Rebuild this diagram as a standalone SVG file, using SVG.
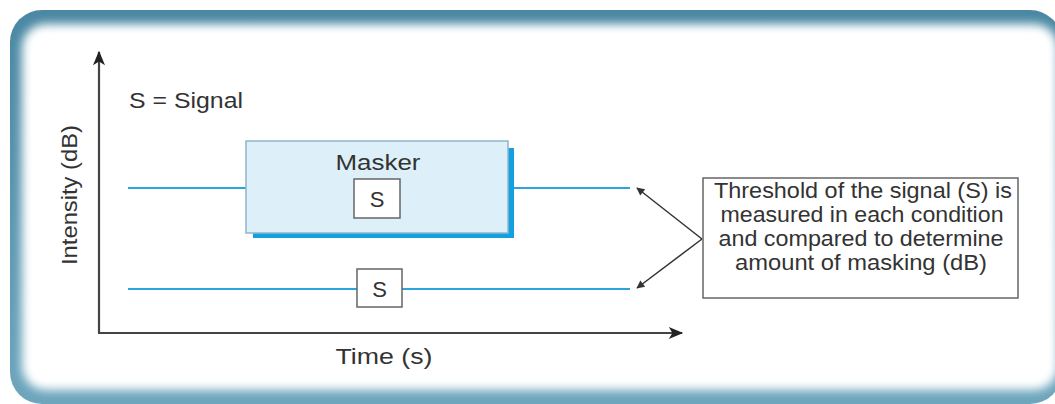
<svg xmlns="http://www.w3.org/2000/svg" width="1055" height="404" viewBox="0 0 1055 404">
<defs>
<filter id="blur" x="-5%" y="-10%" width="110%" height="120%"><feGaussianBlur stdDeviation="5"/></filter>
<linearGradient id="frameGrad" x1="0" y1="0" x2="0" y2="1"><stop offset="0" stop-color="#4a88a3"/><stop offset="1" stop-color="#6ea6bd"/></linearGradient>
<marker id="arrowBlack" viewBox="0 0 10 10" refX="9" refY="5" markerWidth="9" markerHeight="8" markerUnits="userSpaceOnUse" orient="auto"><path d="M0,0 L10,5 L0,10 z" fill="#333"/></marker>
<marker id="axisArrow" viewBox="0 0 12 10" refX="11" refY="5" markerWidth="18" markerHeight="12" markerUnits="userSpaceOnUse" orient="auto"><path d="M0,0 L12,5 L0,10 L3,5 z" fill="#222"/></marker>
</defs>
<style>
text{font-family:"Liberation Sans",Arial,sans-serif;fill:#333}
.lbl{font-size:22px}
.sig{stroke:#2aa6dc;stroke-width:2;fill:none}
.box{fill:#fff;stroke:#666;stroke-width:1.5}
.axis{stroke:#444;stroke-width:2.2;fill:none}
</style>
<g id="frame">
<rect x="10" y="10" width="1052" height="394" rx="32" fill="url(#frameGrad)"/>
<rect x="22" y="24" width="1036" height="366" rx="24" fill="#fff" filter="url(#blur)"/>
</g>
<g id="axes">
<line class="axis" x1="99" y1="333" x2="99" y2="52" marker-end="url(#axisArrow)"/>
<line class="axis" x1="98" y1="333" x2="682" y2="333" marker-end="url(#axisArrow)"/>
<text class="lbl" transform="translate(77,195) rotate(-90)" text-anchor="middle" textLength="140" lengthAdjust="spacingAndGlyphs">Intensity (dB)</text>
<text class="lbl" x="384" y="364" text-anchor="middle" textLength="97" lengthAdjust="spacingAndGlyphs">Time (s)</text>
<text class="lbl" x="129" y="108" textLength="114" lengthAdjust="spacingAndGlyphs">S = Signal</text>
</g>
<g id="connectors">
<line class="sig" x1="128" y1="188" x2="246" y2="188"/>
<line class="sig" x1="514" y1="188" x2="630" y2="188"/>
<line class="sig" x1="128" y1="289" x2="630" y2="289"/>
<line x1="702" y1="239" x2="637" y2="188" stroke="#333" stroke-width="1.5" marker-end="url(#arrowBlack)"/>
<line x1="702" y1="239" x2="637" y2="288" stroke="#333" stroke-width="1.5" marker-end="url(#arrowBlack)"/>
</g>
<g id="masker">
<rect x="253" y="148" width="261" height="90" fill="#14a0e0"/>
<rect x="246" y="141" width="262" height="92" fill="#ddf0fa" stroke="#8fb6c8" stroke-width="1.5"/>
<text class="lbl" x="378" y="170" text-anchor="middle" textLength="85" lengthAdjust="spacingAndGlyphs">Masker</text>
</g>
<g id="signal-masked">
<rect class="box" x="354" y="179" width="46" height="39"/>
<text class="lbl" x="377" y="207" text-anchor="middle" font-size="24">S</text>
</g>
<g id="signal-alone">
<rect class="box" x="357" y="269" width="45" height="38"/>
<text class="lbl" x="379.5" y="297" text-anchor="middle" font-size="24">S</text>
</g>
<g id="note">
<rect class="box" x="703" y="178" width="315" height="120"/>
<text class="lbl" x="863" y="198" text-anchor="middle" textLength="298" lengthAdjust="spacingAndGlyphs">Threshold of the signal (S) is</text>
<text class="lbl" x="862" y="222" text-anchor="middle" textLength="283" lengthAdjust="spacingAndGlyphs">measured in each condition</text>
<text class="lbl" x="861" y="246" text-anchor="middle" textLength="285" lengthAdjust="spacingAndGlyphs">and compared to determine</text>
<text class="lbl" x="861" y="270" text-anchor="middle" textLength="252" lengthAdjust="spacingAndGlyphs">amount of masking (dB)</text>
</g>
</svg>
